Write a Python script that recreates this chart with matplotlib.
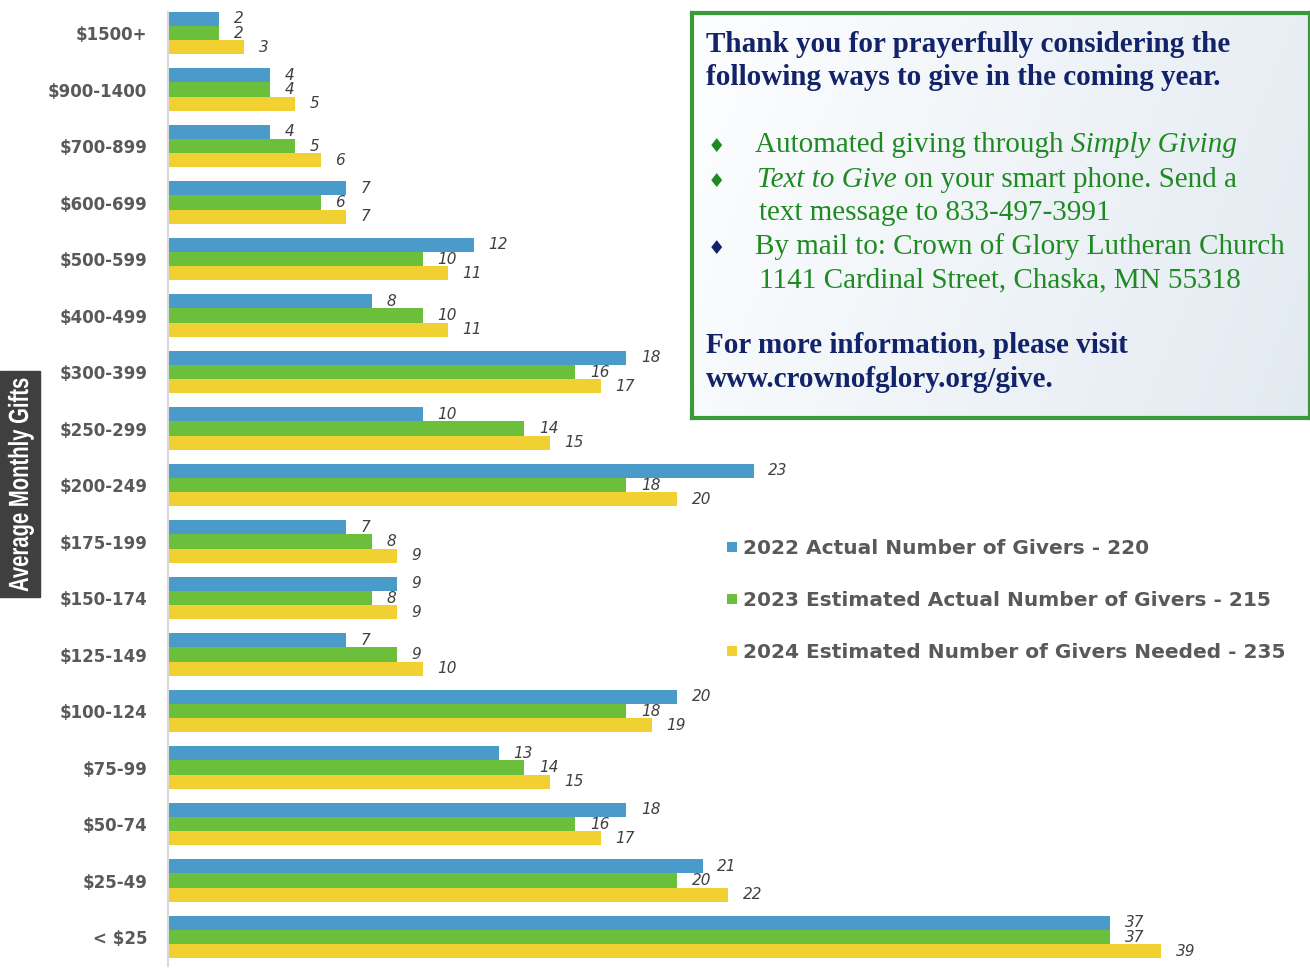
import numpy as np
import matplotlib
matplotlib.use("Agg")
import matplotlib.pyplot as plt
from matplotlib.patches import Rectangle
from matplotlib.colors import LinearSegmentedColormap
from matplotlib.patheffects import AbstractPathEffect
from matplotlib.transforms import Affine2D

plt.rcParams["text.parse_math"] = False
plt.rcParams["font.family"] = "DejaVu Sans"

# Données : tranches de dons mensuels (haut -> bas)
ranges = ["$1500+", "$900-1400", "$700-899", "$600-699", "$500-599", "$400-499",
          "$300-399", "$250-299", "$200-249", "$175-199", "$150-174", "$125-149",
          "$100-124", "$75-99", "$50-74", "$25-49", "< $25"]
givers_2022 = [2, 4, 4, 7, 12, 8, 18, 10, 23, 7, 9, 7, 20, 13, 18, 21, 37]
givers_2023 = [2, 4, 5, 6, 10, 10, 16, 14, 18, 8, 8, 9, 18, 14, 16, 20, 37]
givers_2024 = [3, 5, 6, 7, 11, 11, 17, 15, 20, 9, 9, 10, 19, 15, 17, 22, 39]
legend_labels = ["2022 Actual Number of Givers - 220",
                 "2023 Estimated Actual Number of Givers - 215",
                 "2024 Estimated Number of Givers Needed - 235"]

blue, green, yellow = "#4a9bc9", "#6cbf3a", "#f1d032"
grey = "#595959"
navy = "#13236a"
dkgreen = "#1f8a22"

W, H = 1310, 980
fig = plt.figure(figsize=(W / 100, H / 100), dpi=100)
renderer = fig.canvas.get_renderer()

def fx(x):
    return x / W

def fy(y):
    return 1 - y / H

# Texte resserré (police étroite simulée)
class Squeeze(AbstractPathEffect):
    def __init__(self, sx):
        super().__init__()
        self.sx = sx

    def draw_path(self, renderer, gc, tpath, affine, rgbFace=None):
        renderer.draw_path(gc, tpath, Affine2D().scale(self.sx, 1) + affine, rgbFace)

# Barres
ax = fig.add_axes([fx(168), fy(966), (W - 168) / W, (966 - 12) / H])
y = np.arange(len(ranges))
h = 0.25
for off, vals, col, lab in [(-h, givers_2022, blue, legend_labels[0]),
                            (0, givers_2023, green, legend_labels[1]),
                            (h, givers_2024, yellow, legend_labels[2])]:
    bars = ax.barh(y + off, vals, height=h, color=col, label=lab)
    ax.bar_label(bars, padding=10.5, fontsize=11, fontstyle="italic", color="#404040")

ax.set_ylim(16.513, -0.372)
ax.set_xlim(0, 44.85)
ax.set_yticks(y, ranges)
ax.set_xticks([])
ax.tick_params(axis="y", length=0, pad=15)
for t in ax.get_yticklabels():
    t.set_fontweight("bold")
    t.set_fontsize(12)
    t.set_color(grey)
for s in ["top", "right", "bottom"]:
    ax.spines[s].set_visible(False)
ax.spines["left"].set_color("#d9d9d9")
ax.spines["left"].set_linewidth(1.5)

leg = fig.legend(loc="upper left", bbox_to_anchor=(fx(727), fy(539)), frameon=False,
                 fontsize=14.5, labelspacing=1.65, handlelength=0.48, handleheight=0.4,
                 handletextpad=0.33, borderpad=0, borderaxespad=0)
for t in leg.get_texts():
    t.set_fontweight("bold")
    t.set_color(grey)

# Titre de l'axe Y dans un bandeau sombre
fig.patches.append(Rectangle((0, fy(597)), fx(40), (597 - 371) / H,
                             transform=fig.transFigure, color="#3f3f3f", zorder=0))
ylab = fig.text(fx(21), fy(592), "Average Monthly Gifts", rotation=90, ha="center",
                va="bottom", color="white", fontsize=20, weight="bold",
                family="Liberation Sans")
full_len = ylab.get_window_extent(renderer).height
ylab.set_path_effects([Squeeze(214 / full_len)])

# Encadré de texte
bx = fig.add_axes([fx(692), fy(418), (W - 692) / W, (418 - 13) / H])
gx, gy = np.meshgrid(np.linspace(0, 1, 256), np.linspace(0, 1, 256))
cmap = LinearSegmentedColormap.from_list("bg", ["#fdfeff", "#e2eaf1"])
bx.imshow(0.8 * gx + 0.2 * gy, cmap=cmap, extent=(0, 1, 0, 1), aspect="auto")
bx.set_xticks([])
bx.set_yticks([])
for s in bx.spines.values():
    s.set_color("#3a9a3a")
    s.set_linewidth(3)

serif = "Liberation Serif"
fs = 21
space = fs * 100 / 72 * 0.25

def write_line(x, yb, parts, weight="normal"):
    for text, style, col in parts:
        t = fig.text(fx(x), fy(yb), text, fontsize=fs, family=serif, style=style,
                     color=col, weight=weight, va="baseline")
        x += t.get_window_extent(renderer).width + space

write_line(706, 52, [("Thank you for prayerfully considering the", "normal", navy)], "bold")
write_line(706, 85, [("following ways to give in the coming year.", "normal", navy)], "bold")

for yb, col in [(152, dkgreen), (187, dkgreen), (254, navy)]:
    fig.text(fx(716), fy(yb), "\u2666", fontsize=14, color=col, ha="center", va="baseline",
             family="DejaVu Sans")

write_line(755, 152, [("Automated giving through", "normal", dkgreen),
                      ("Simply Giving", "italic", dkgreen)])
write_line(757, 187, [("Text to Give", "italic", dkgreen),
                      ("on your smart phone. Send a", "normal", dkgreen)])
write_line(759, 220, [("text message to 833-497-3991", "normal", dkgreen)])
write_line(755, 254, [("By mail to: Crown of Glory Lutheran Church", "normal", dkgreen)])
write_line(759, 287, [("1141 Cardinal Street, Chaska, MN 55318", "normal", dkgreen)])

write_line(706, 353, [("For more information, please visit", "normal", navy)], "bold")
write_line(706, 387, [("www.crownofglory.org/give.", "normal", navy)], "bold")

fig.savefig("out.png", dpi=100)
